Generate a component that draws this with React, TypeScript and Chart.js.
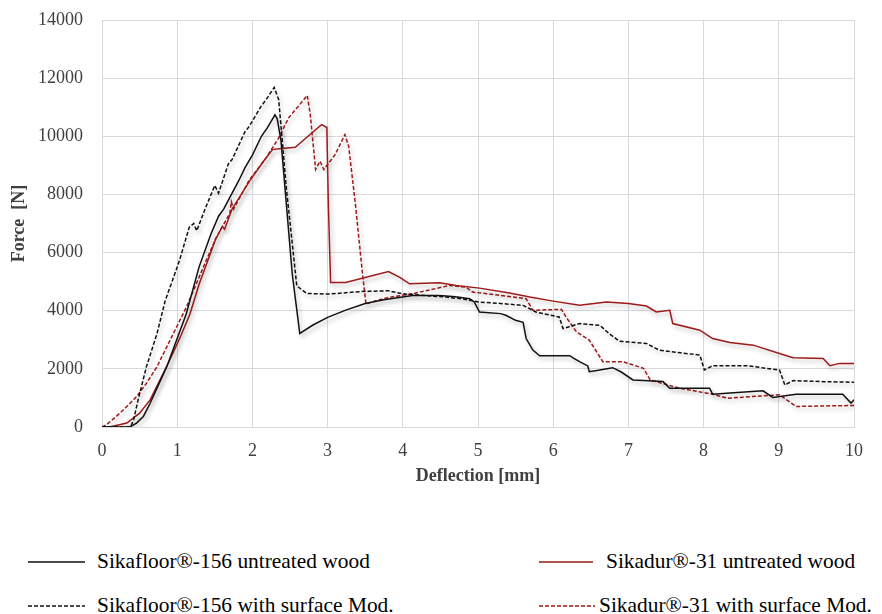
import React, { useEffect, useRef } from "react";
import { Chart, registerables } from "chart.js";

Chart.register(...registerables);

// ---- Data (deflection in mm, force in N) ----
const floorUntreatedX = [0, 0.37, 0.46, 0.55, 0.64, 0.73, 0.86, 0.99, 1.12, 1.29, 1.45, 1.55, 1.62, 1.66, 1.82, 1.9, 2.0, 2.12, 2.2, 2.3, 2.33, 2.38, 2.53, 2.63, 2.8, 3.0, 3.25, 3.5, 3.75, 3.95, 4.13, 4.49, 4.7, 4.89, 4.95, 5.02, 5.3, 5.37, 5.5, 5.6, 5.64, 5.73, 5.82, 6.0, 6.22, 6.28, 6.35, 6.46, 6.48, 6.6, 6.79, 6.9, 7.06, 7.2, 7.46, 7.55, 7.7, 8.08, 8.12, 8.4, 8.79, 8.92, 9.23, 9.5, 9.85, 9.96, 10];
const floorUntreatedY = [0, 0, 136, 363, 818, 1329, 2067, 2976, 3885, 5500, 6650, 7250, 7500, 7700, 8480, 8914, 9350, 10000, 10300, 10740, 10600, 9860, 5262, 3217, 3500, 3770, 4030, 4250, 4380, 4458, 4526, 4526, 4480, 4412, 4300, 3956, 3900, 3842, 3670, 3600, 3044, 2645, 2451, 2451, 2451, 2350, 2246, 2100, 1904, 1950, 2041, 1900, 1619, 1600, 1562, 1334, 1334, 1334, 1129, 1180, 1243, 1015, 1129, 1129, 1129, 821, 935];

const floorModX = [0, 0.38, 0.42, 0.48, 0.59, 0.73, 0.84, 1.03, 1.16, 1.22, 1.26, 1.38, 1.5, 1.55, 1.68, 1.73, 1.9, 1.96, 2.12, 2.18, 2.29, 2.35, 2.45, 2.59, 2.72, 3.01, 3.46, 3.81, 4.0, 4.3, 4.58, 4.8, 5.02, 5.3, 5.6, 5.77, 6.08, 6.13, 6.35, 6.62, 6.75, 6.88, 7.24, 7.41, 7.7, 7.95, 8.01, 8.12, 8.57, 9.01, 9.08, 9.19, 9.6, 10];
const floorModY = [0, 0, 250, 931, 2067, 3203, 4340, 5722, 6871, 7000, 6750, 7560, 8307, 8043, 9050, 9200, 10150, 10350, 11050, 11250, 11680, 11257, 8250, 4857, 4594, 4571, 4663, 4685, 4583, 4520, 4469, 4400, 4298, 4250, 4184, 3956, 3785, 3386, 3557, 3500, 3200, 2953, 2873, 2645, 2550, 2474, 1961, 2109, 2109, 1961, 1448, 1596, 1560, 1539];

const durUntreatedX = [0, 0.1, 0.33, 0.5, 0.64, 0.77, 0.9, 1.04, 1.17, 1.29, 1.51, 1.6, 1.63, 1.73, 1.96, 2.15, 2.27, 2.4, 2.57, 2.79, 2.92, 2.99, 3.01, 3.04, 3.24, 3.46, 3.81, 3.96, 4.09, 4.49, 4.71, 5.02, 5.4, 5.69, 6.0, 6.35, 6.71, 7.0, 7.24, 7.37, 7.55, 7.59, 7.95, 8.12, 8.35, 8.66, 9.01, 9.19, 9.59, 9.68, 9.81, 10];
const durUntreatedY = [0, 0, 136, 477, 931, 1613, 2295, 3090, 3885, 4900, 6450, 6900, 6800, 7500, 8450, 9150, 9550, 9580, 9620, 10114, 10400, 10300, 7657, 4971, 4971, 5120, 5349, 5150, 4925, 4959, 4868, 4777, 4620, 4469, 4330, 4184, 4298, 4250, 4161, 3956, 4013, 3557, 3329, 3044, 2907, 2816, 2531, 2383, 2360, 2109, 2188, 2188];

const durModX = [0, 0.06, 0.19, 0.33, 0.46, 0.59, 0.73, 0.86, 0.99, 1.12, 1.29, 1.51, 1.7, 1.72, 1.75, 1.96, 2.18, 2.35, 2.48, 2.73, 2.77, 2.84, 2.9, 2.95, 3.1, 3.23, 3.28, 3.37, 3.46, 3.51, 3.64, 3.81, 4.13, 4.62, 4.84, 4.93, 5.24, 5.64, 5.73, 6.11, 6.17, 6.31, 6.48, 6.66, 6.93, 7.2, 7.29, 7.68, 8.12, 8.32, 9.01, 9.23, 10];
const durModY = [0, 80, 363, 704, 1045, 1500, 2067, 2749, 3430, 4112, 5148, 6469, 7350, 7750, 7500, 8500, 9250, 9943, 10629, 11406, 10743, 8857, 9143, 8857, 9371, 10057, 9657, 7657, 5371, 4229, 4343, 4457, 4583, 4868, 4811, 4640, 4549, 4412, 4013, 4047, 3785, 3272, 2987, 2246, 2246, 2018, 1619, 1334, 1129, 992, 1106, 707, 741];

const seriesNames = [
  "Sikafloor®-156 untreated wood",
  "Sikadur®-31 untreated wood",
  "Sikafloor®-156 with surface Mod.",
  "Sikadur®-31 with surface Mod.",
];
const xTicks = [0, 1, 2, 3, 4, 5, 6, 7, 8, 9, 10];
const yTicks = [0, 2000, 4000, 6000, 8000, 10000, 12000, 14000];

const BLACK = "#111111";
const RED = "#9e1a1a";
const FONT = "'Liberation Serif', 'Times New Roman', serif";

const toPoints = (xs: number[], ys: number[]) => xs.map((x, i) => ({ x, y: ys[i] }));

const shadowPlugin = {
  id: "lineShadow",
  beforeDatasetsDraw(chart: any) {
    const ctx = chart.ctx;
    ctx.save();
    ctx.shadowColor = "rgba(0,0,0,0.28)";
    ctx.shadowBlur = 4;
    ctx.shadowOffsetX = 2;
    ctx.shadowOffsetY = 3;
  },
  afterDatasetsDraw(chart: any) {
    chart.ctx.restore();
  },
};

const legendItems = [
  { name: seriesNames[0], color: BLACK, dash: false, left: 28, lineW: 57, textLeft: 97, top: 562 },
  { name: seriesNames[1], color: RED, dash: false, left: 539, lineW: 54, textLeft: 606, top: 562 },
  { name: seriesNames[2], color: BLACK, dash: true, left: 28, lineW: 57, textLeft: 97, top: 606 },
  { name: seriesNames[3], color: RED, dash: true, left: 539, lineW: 56, textLeft: 599, top: 606 },
];

export default function App() {
  const ref = useRef<HTMLCanvasElement>(null);

  useEffect(() => {
    if (!ref.current) return;
    const mk = (label: string, xs: number[], ys: number[], color: string, dashed: boolean) => ({
      label,
      data: toPoints(xs, ys),
      borderColor: color,
      backgroundColor: color,
      borderWidth: 1.5,
      borderDash: dashed ? [4, 2] : [],
      pointRadius: 0,
      tension: 0,
      fill: false,
    });
    const chart = new Chart(ref.current, {
      type: "line",
      data: {
        datasets: [
          mk(seriesNames[0], floorUntreatedX, floorUntreatedY, BLACK, false),
          mk(seriesNames[2], floorModX, floorModY, BLACK, true),
          mk(seriesNames[1], durUntreatedX, durUntreatedY, RED, false),
          mk(seriesNames[3], durModX, durModY, RED, true),
        ],
      },
      options: {
        animation: false,
        responsive: false,
        layout: { padding: { top: 20, right: 28, left: 0, bottom: 0 } },
        plugins: { legend: { display: false }, tooltip: { enabled: false } },
        scales: {
          x: {
            type: "linear",
            min: 0,
            max: 10,
            afterBuildTicks: (s: any) => { s.ticks = xTicks.map((v) => ({ value: v })); },
            afterFit: (s: any) => { s.height = 73; },
            grid: { color: "#d9d9d9", drawTicks: false, lineWidth: 1 },
            border: { color: "#d9d9d9" },
            ticks: { color: "#404040", font: { family: FONT, size: 18 }, padding: 13, callback: (v: any) => String(v) },
            title: { display: true, text: "Deflection [mm]", color: "#404040", font: { family: FONT, size: 18, weight: "bold" }, padding: { top: 0, bottom: 13 } },
          },
          y: {
            min: 0,
            max: 14000,
            afterBuildTicks: (s: any) => { s.ticks = yTicks.map((v) => ({ value: v })); },
            afterFit: (s: any) => { s.width = 102; s.paddingTop = 0; s.paddingBottom = 0; },
            grid: { color: "#d9d9d9", drawTicks: false, lineWidth: 1 },
            border: { color: "#d9d9d9" },
            ticks: { color: "#404040", font: { family: FONT, size: 18 }, padding: 19, callback: (v: any) => String(v) },
            title: { display: true, text: "Force  [N]", color: "#404040", font: { family: FONT, size: 18, weight: "bold" }, padding: { top: 9, bottom: 0 } },
          },
        },
      },
      plugins: [shadowPlugin],
    } as any);
    return () => chart.destroy();
  }, []);

  return (
    <div style={{ position: "absolute", left: 0, top: 0, width: 882, height: 614, background: "#fff", overflow: "hidden" }}>
      <canvas ref={ref} width={882} height={500} style={{ position: "absolute", left: 0, top: 0 }} />
      {legendItems.map((it) => (
        <div key={it.name}>
          <svg style={{ position: "absolute", left: it.left, top: it.top - 3 }} width={it.lineW} height={6}>
            <line x1={0} y1={3} x2={it.lineW} y2={3} stroke={it.color} strokeWidth={1.5} strokeDasharray={it.dash ? "4 2" : undefined} />
          </svg>
          <span style={{ position: "absolute", left: it.textLeft, top: it.top - 13, lineHeight: "24px", fontSize: 21.4, fontFamily: FONT, color: "#000", whiteSpace: "nowrap" }}>
            {it.name}
          </span>
        </div>
      ))}
    </div>
  );
}
